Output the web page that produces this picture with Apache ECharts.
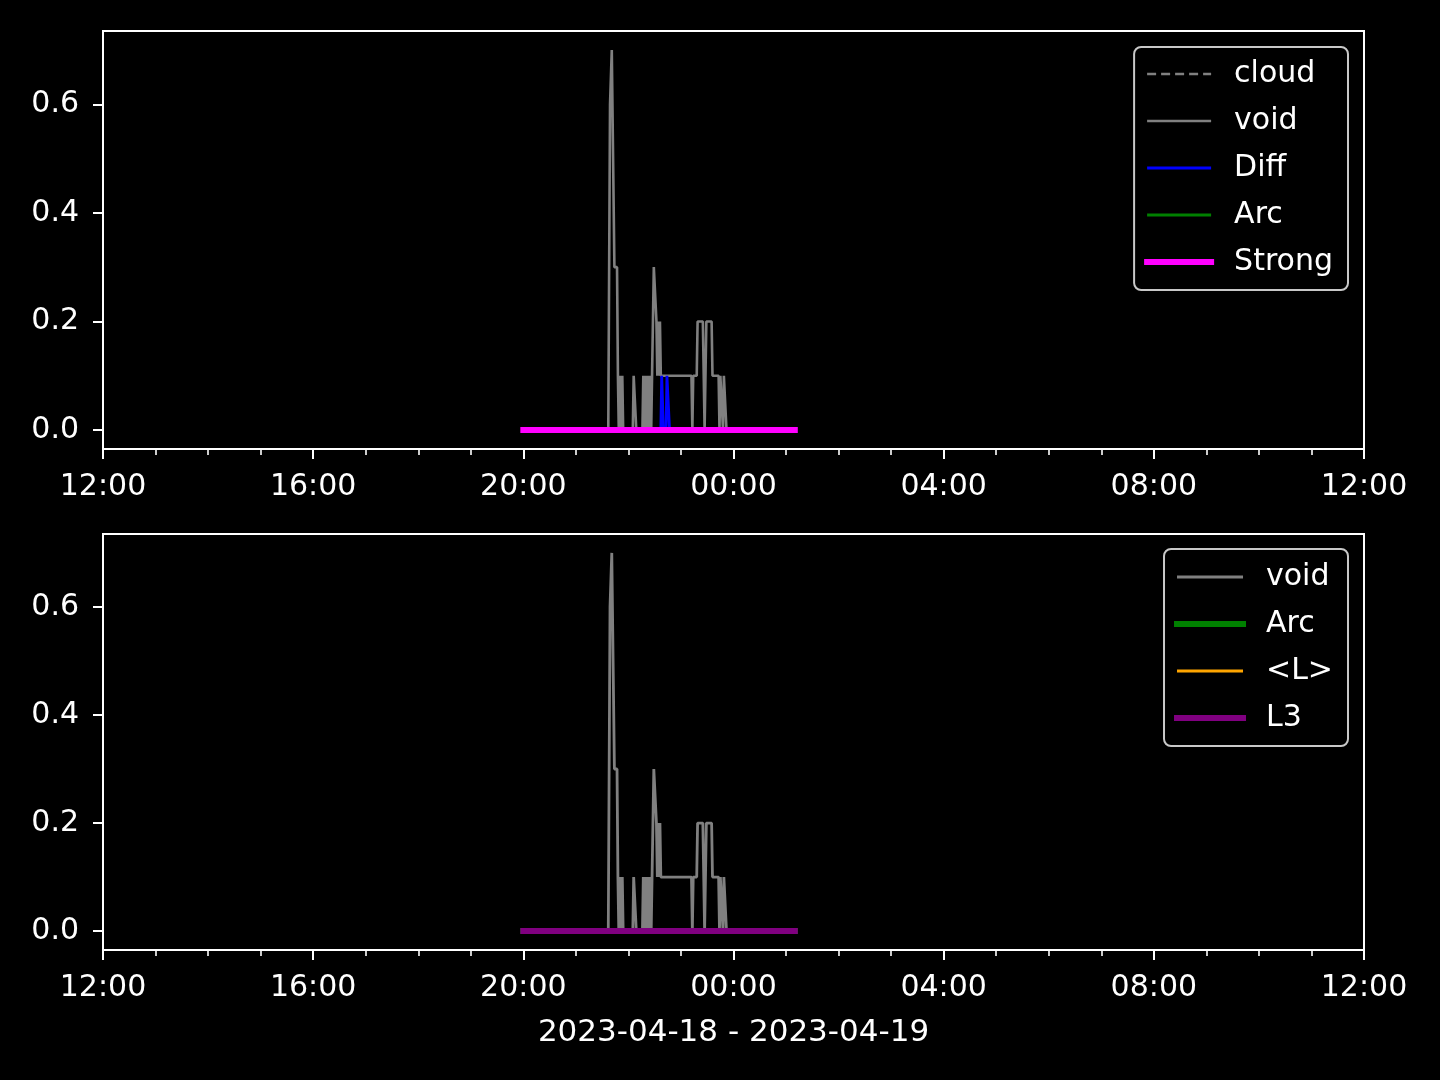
<!DOCTYPE html>
<html><head><meta charset="utf-8">
<script src="https://cdn.jsdelivr.net/npm/echarts@6/dist/echarts.min.js"></script>
<style>html,body{margin:0;padding:0;background:#000;}#c{width:1440px;height:1080px;}</style>
</head><body><div id="c"></div>
<script>
// ---- data ----
const xMajorTicks = ['2023-04-18 12:00','2023-04-18 16:00','2023-04-18 20:00','2023-04-19 00:00','2023-04-19 04:00','2023-04-19 08:00','2023-04-19 12:00'];
const yTickValues = [0, 0.2, 0.4, 0.6];
const xTitle = '2023-04-18 - 2023-04-19';

const voidTimes  = ['21:30','21:37','21:39','21:41','21:44','21:47','21:48','21:49','21:50','21:51','21:52','21:53','21:54',
  '22:05','22:06','22:08','22:09','22:16','22:17','22:18','22:19','22:20','22:21','22:22','22:24','22:25','22:26','22:27','22:28',
  '22:29','22:31','22:32','22:33','22:34','22:35','22:36','22:37','23:12','23:13','23:14','23:18','23:19','23:25','23:27','23:29',
  '23:35','23:36','23:43','23:44','23:45','23:47','23:48','23:49','23:51','23:52'];
const voidValues = [0, 0, 0.6, 0.7, 0.3, 0.3, 0.1, 0, 0.1, 0.1, 0, 0.1, 0,
  0, 0.1, 0.1, 0, 0, 0.1, 0, 0.1, 0.1, 0, 0.1, 0, 0.1, 0, 0.1, 0.1,
  0.3, 0.3, 0.2, 0.1, 0.2, 0.1, 0.2, 0.1, 0.1, 0, 0.1, 0.1, 0.2, 0.2, 0, 0.2,
  0.2, 0.1, 0.1, 0, 0.1, 0.1, 0, 0.1, 0.1, 0];

const diffTimes  = ['20:00','22:37','22:38','22:39','22:40','22:43','22:44','22:46','22:47','01:10'];
const diffValues = [0, 0, 0.1, 0.1, 0, 0, 0.1, 0.1, 0, 0];

const cloudTimes  = ['20:00','01:10'];
const cloudValues = [0, 0];
const arcTimes    = ['20:00','01:10'];
const arcValues   = [0, 0];
const strongTimes = ['20:00','01:10'];
const strongValues= [0, 0];
const lAvgTimes   = ['20:00','01:10'];
const lAvgValues  = [0, 0];
const l3Times     = ['20:00','01:10'];
const l3Values    = [0, 0];

// ---- helpers ----
function toTs(s){ const [d,t]=s.split(' '); const [y,mo,da]=d.split('-').map(Number); const [h,mi]=t.split(':').map(Number); return new Date(y,mo-1,da,h,mi).getTime(); }
function clock(hm){ const h=+hm.split(':')[0]; return toTs((h>=12?'2023-04-18 ':'2023-04-19 ')+hm); }
function pairs(ts, vs){ return ts.map((t,i)=>[clock(t), vs[i]]); }
function pad(n){ return (n<10?'0':'')+n; }

const xMin = toTs(xMajorTicks[0]), xMax = toTs(xMajorTicks[xMajorTicks.length-1]);
const majorTs = xMajorTicks.map(toTs);
const minorTs = []; for(let t=xMin; t<=xMax; t+=3600000) minorTs.push(t);

const FONT = 'DejaVu Sans';
const FS = 30;
const W = '#ffffff';

function xAxes(gi, withName){
  return [{
    type:'value', gridIndex:gi, min:xMin, max:xMax, position:'bottom',
    axisLine:{show:true, onZero:false, lineStyle:{color:W, width:2}},
    axisTick:{show:true, customValues:majorTs, length:10, lineStyle:{color:W, width:2}},
    axisLabel:{show:true, customValues:majorTs, color:W, fontFamily:FONT, fontSize:FS, margin:23,
      formatter:v=>{const d=new Date(v); return pad(d.getHours())+':'+pad(d.getMinutes());}},
    splitLine:{show:false},
    name: withName?xTitle:'', nameLocation:'middle', nameGap:67,
    nameTextStyle:{color:W, fontFamily:FONT, fontSize:31}
  },{
    type:'value', gridIndex:gi, min:xMin, max:xMax, position:'bottom',
    axisLine:{show:false, onZero:false},
    axisTick:{show:true, customValues:minorTs, length:6, lineStyle:{color:W, width:1.6}},
    axisLabel:{show:false}, splitLine:{show:false}
  }];
}
function yAxis(gi){
  return {
    type:'value', gridIndex:gi, min:-0.035, max:0.735,
    axisLine:{show:true, onZero:false, lineStyle:{color:W, width:2}},
    axisTick:{show:true, customValues:yTickValues, length:10, lineStyle:{color:W, width:2}},
    axisLabel:{show:true, customValues:yTickValues, color:W, fontFamily:FONT, fontSize:FS, margin:24,
      formatter:v=>v.toFixed(1)},
    splitLine:{show:false}
  };
}
function line(name, data, xi, yi, color, width, type, cap){
  return {name, type:'line', data, xAxisIndex:xi, yAxisIndex:yi, symbol:'none', showSymbol:false,
    animation:false, silent:true,
    lineStyle:{color, width, type:type||'solid', cap:cap||'butt'}, itemStyle:{color}};
}
function legendItem(name, color, width, type){
  return {name, itemStyle:{opacity:0}, lineStyle:{color, width, type:type||'solid', opacity:1}};
}
function legend(items, top, iw, padTop){
  return {
    data:items, orient:'vertical', right:92, top:top, itemWidth:iw, itemHeight:14, itemGap:17,
    backgroundColor:'#000', borderColor:'#c8c8c8', borderWidth:2, borderRadius:7,
    padding:[padTop,15,13,10],
    itemStyle:{opacity:0},
    textStyle:{color:W, fontFamily:FONT, fontSize:FS, lineHeight:30, padding:[0,0,0,18]},
    selectedMode:false, inactiveColor:'#444',
    formatter:n=>n.trim()
  };
}

const chart = echarts.init(document.getElementById('c'), null, {renderer:'canvas'});
chart.setOption({
  backgroundColor:'#000',
  animation:false,
  grid:[
    {left:103, right:76, top:31, height:418, show:true, borderColor:W, borderWidth:2},
    {left:103, right:76, top:534, height:416, show:true, borderColor:W, borderWidth:2}
  ],
  xAxis:[...xAxes(0,false), ...xAxes(1,true)],
  yAxis:[yAxis(0), yAxis(1)],
  legend:[
    legend([legendItem('cloud','#808080',2.4,[9,5]), legendItem('void','#808080',2.6), legendItem('Diff','#0000ff',2.8),
            legendItem('Arc','#008000',3), legendItem('Strong','#ff00ff',6)], 47, 64, 12),
    legend([legendItem('void ','#808080',2.8), legendItem('Arc ','#008000',6), legendItem('<L>','#ffa500',3),
            legendItem('L3','#800080',6)], 549, 66, 13)
  ],
  series:[
    line('cloud', pairs(cloudTimes, cloudValues), 0, 0, '#808080', 2.4, [9,5]),
    line('void', pairs(voidTimes, voidValues), 0, 0, '#808080', 2.6),
    line('Diff', pairs(diffTimes, diffValues), 0, 0, '#0000ff', 2.8),
    line('Arc', pairs(arcTimes, arcValues), 0, 0, '#008000', 3),
    line('Strong', pairs(strongTimes, strongValues), 0, 0, '#ff00ff', 6, 'solid', 'square'),
    line('void ', pairs(voidTimes, voidValues), 2, 1, '#808080', 2.8),
    line('Arc ', pairs(arcTimes, arcValues), 2, 1, '#008000', 6, 'solid', 'square'),
    line('<L>', pairs(lAvgTimes, lAvgValues), 2, 1, '#ffa500', 3),
    line('L3', pairs(l3Times, l3Values), 2, 1, '#800080', 6, 'solid', 'square')
  ]
});
</script></body></html>
